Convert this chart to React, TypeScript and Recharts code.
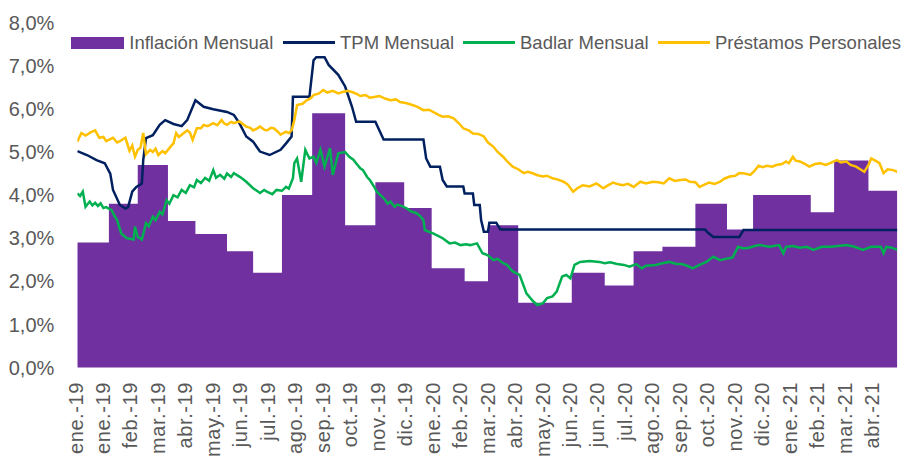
import React from 'react';
import { ComposedChart, Area, Line, XAxis, YAxis } from 'recharts';

// x values are business-day indices starting at 2 Jan 2019 (category axis of daily data)
const tickLabels = [
  'ene.-19', 'ene.-19', 'feb.-19', 'mar.-19', 'abr.-19', 'may.-19', 'jun.-19', 'jul.-19',
  'ago.-19', 'sep.-19', 'oct.-19', 'nov.-19', 'dic.-19', 'ene.-20', 'feb.-20', 'mar.-20',
  'abr.-20', 'may.-20', 'jun.-20', 'jun.-20', 'jul.-20', 'ago.-20', 'sep.-20', 'oct.-20',
  'nov.-20', 'dic.-20', 'ene.-21', 'feb.-21', 'mar.-21', 'abr.-21',
];
const tickEvery = 20;
const lastDay = 597;

const monthStartDay = [
  0, 23, 44, 66, 86, 109, 128, 149, 171, 195, 217, 238, 258, 282, 299, 321, 340, 360,
  384, 405, 426, 450, 473, 492, 513, 534, 551, 576,
];
const inflationMensual = [
  2.9, 3.8, 4.7, 3.4, 3.1, 2.7, 2.2, 4.0, 5.9, 3.3, 4.3, 3.7, 2.3, 2.0, 3.3, 1.5, 1.5, 2.2,
  1.9, 2.7, 2.8, 3.8, 3.2, 4.0, 4.0, 3.6, 4.8, 4.1,
];

const tpmMensual: [number, number][] = [
  [0, 5.02], [7, 4.93], [14, 4.81], [20, 4.74], [24, 4.5], [26, 4.12], [31, 3.77], [35, 3.69],
  [37, 3.72], [40, 4.08], [43, 4.19], [47, 4.27], [48, 4.81], [50, 5.32], [55, 5.39], [60, 5.63],
  [64, 5.74], [70, 5.65], [76, 5.6], [80, 5.74], [86, 6.2], [92, 6.05], [99, 5.99], [109, 5.93],
  [114, 5.86], [118, 5.67], [123, 5.36], [128, 5.24], [133, 5.01], [140, 4.93], [148, 5.05],
  [152, 5.2], [156, 5.36], [157, 6.28], [169, 6.28], [172, 7.13], [174, 7.2], [180, 7.2],
  [183, 7.02], [190, 6.79], [195, 6.52], [200, 6.05], [203, 5.7], [217, 5.7], [223, 5.29],
  [252, 5.29], [254, 4.85], [257, 4.66], [264, 4.66], [266, 4.35], [269, 4.2], [281, 4.2],
  [282, 4.04], [288, 4.04], [289, 3.77], [293, 3.77], [294, 3.42], [296, 3.15], [299, 3.15],
  [300, 3.36], [305, 3.36], [308, 3.2], [457, 3.2], [459, 3.13], [463, 3.03], [482, 3.03],
  [485, 3.19], [597, 3.19],
];

const badlarMensual: [number, number][] = [
  [0, 4.04], [2, 3.98], [4, 4.08], [6, 3.73], [9, 3.85], [11, 3.76], [13, 3.82], [15, 3.75],
  [17, 3.81], [19, 3.7], [21, 3.72], [25, 3.65], [27, 3.52], [29, 3.42], [32, 3.11], [36, 3.0],
  [41, 2.97], [42, 3.27], [44, 3.03], [47, 2.97], [50, 3.35], [52, 3.28], [55, 3.5], [57, 3.42],
  [60, 3.61], [62, 3.55], [65, 3.88], [67, 3.8], [70, 4.0], [73, 3.95], [76, 4.12], [79, 4.05],
  [82, 4.23], [85, 4.18], [87, 4.35], [90, 4.28], [93, 4.4], [96, 4.33], [99, 4.58], [101, 4.4],
  [104, 4.47], [107, 4.38], [109, 4.5], [112, 4.42], [114, 4.51], [118, 4.43], [121, 4.36],
  [123, 4.31], [128, 4.16], [133, 4.05], [136, 4.12], [138, 4.08], [142, 4.02], [145, 4.12],
  [149, 4.1], [152, 4.19], [154, 4.15], [157, 4.39], [158, 4.74], [160, 4.85], [163, 4.31],
  [166, 5.05], [169, 4.85], [172, 4.89], [174, 4.75], [177, 5.05], [180, 4.66], [184, 5.09],
  [186, 4.47], [190, 4.97], [195, 5.0], [198, 4.89], [201, 4.82], [203, 4.74], [206, 4.62],
  [208, 4.58], [211, 4.42], [213, 4.35], [216, 4.2], [218, 4.08], [223, 3.93], [226, 3.8],
  [228, 3.85], [231, 3.73], [233, 3.78], [236, 3.75], [240, 3.69], [243, 3.62], [247, 3.58],
  [250, 3.5], [252, 3.42], [253, 3.19], [256, 3.15], [259, 3.11], [263, 3.05], [266, 3.0],
  [271, 2.88], [275, 2.9], [279, 2.84], [283, 2.86], [286, 2.84], [291, 2.88], [295, 2.65],
  [299, 2.6], [303, 2.49], [306, 2.52], [310, 2.42], [313, 2.38], [315, 2.3], [317, 2.23],
  [322, 2.15], [327, 1.72], [332, 1.53], [335, 1.45], [339, 1.49], [342, 1.61], [346, 1.65],
  [349, 1.76], [353, 2.11], [356, 2.15], [359, 2.07], [362, 2.38], [366, 2.45], [373, 2.47],
  [380, 2.45], [384, 2.42], [388, 2.44], [393, 2.4], [398, 2.38], [402, 2.34], [407, 2.4],
  [411, 2.3], [414, 2.36], [421, 2.38], [426, 2.42], [431, 2.45], [436, 2.4], [440, 2.4],
  [444, 2.36], [448, 2.3], [453, 2.38], [458, 2.45], [463, 2.57], [468, 2.49], [472, 2.52],
  [477, 2.55], [481, 2.8], [485, 2.76], [489, 2.78], [493, 2.82], [497, 2.84], [504, 2.8],
  [511, 2.84], [514, 2.65], [516, 2.8], [521, 2.82], [526, 2.78], [531, 2.8], [536, 2.73],
  [542, 2.8], [548, 2.8], [554, 2.82], [560, 2.84], [566, 2.8], [572, 2.73], [578, 2.8],
  [585, 2.8], [587, 2.65], [589, 2.8], [593, 2.78], [597, 2.73],
];

const prestamosPersonales: [number, number][] = [
  [0, 5.24], [3, 5.44], [6, 5.38], [10, 5.46], [13, 5.5], [16, 5.33], [19, 5.35], [21, 5.25],
  [24, 5.3], [26, 5.33], [29, 5.22], [31, 5.25], [35, 5.33], [38, 5.03], [40, 5.15], [42, 4.89],
  [44, 5.05], [46, 5.1], [48, 5.44], [50, 4.95], [53, 5.05], [55, 5.0], [57, 5.08], [59, 4.93],
  [62, 5.02], [64, 4.97], [67, 5.09], [70, 5.2], [72, 5.44], [74, 5.35], [76, 5.4], [78, 5.45],
  [80, 5.5], [82, 5.45], [84, 5.28], [87, 5.55], [90, 5.55], [92, 5.63], [95, 5.6], [99, 5.67],
  [102, 5.62], [105, 5.74], [107, 5.66], [109, 5.63], [112, 5.7], [114, 5.67], [118, 5.71],
  [121, 5.64], [123, 5.59], [126, 5.56], [128, 5.5], [131, 5.55], [133, 5.59], [136, 5.52],
  [138, 5.5], [141, 5.56], [143, 5.55], [146, 5.47], [148, 5.4], [150, 5.44], [152, 5.47],
  [154, 5.44], [156, 5.5], [158, 5.74], [160, 6.09], [164, 6.12], [167, 6.2], [170, 6.25],
  [172, 6.32], [176, 6.36], [179, 6.44], [182, 6.38], [186, 6.42], [190, 6.36], [194, 6.4],
  [197, 6.42], [201, 6.38], [204, 6.34], [206, 6.3], [210, 6.32], [213, 6.26], [217, 6.28],
  [220, 6.3], [224, 6.24], [228, 6.2], [232, 6.22], [235, 6.16], [240, 6.13], [245, 6.08],
  [248, 6.04], [252, 5.97], [256, 5.98], [259, 5.93], [263, 5.86], [266, 5.82], [270, 5.83],
  [274, 5.78], [278, 5.66], [281, 5.55], [285, 5.5], [288, 5.43], [292, 5.42], [296, 5.36],
  [299, 5.22], [303, 5.12], [306, 5.0], [310, 4.89], [313, 4.78], [317, 4.66], [321, 4.6],
  [325, 4.51], [328, 4.54], [332, 4.5], [335, 4.46], [339, 4.43], [342, 4.45], [346, 4.39],
  [350, 4.36], [354, 4.31], [357, 4.25], [361, 4.08], [364, 4.16], [368, 4.23], [373, 4.2],
  [378, 4.27], [383, 4.16], [386, 4.22], [390, 4.29], [394, 4.25], [397, 4.23], [401, 4.26],
  [405, 4.19], [410, 4.31], [414, 4.27], [419, 4.31], [423, 4.3], [427, 4.27], [431, 4.39],
  [435, 4.33], [439, 4.35], [443, 4.36], [446, 4.31], [450, 4.3], [453, 4.19], [457, 4.25],
  [460, 4.29], [464, 4.26], [468, 4.31], [471, 4.38], [475, 4.43], [479, 4.45], [482, 4.51],
  [486, 4.5], [490, 4.47], [493, 4.56], [496, 4.68], [499, 4.65], [502, 4.68], [506, 4.66],
  [509, 4.7], [513, 4.72], [516, 4.78], [518, 4.74], [521, 4.89], [523, 4.8], [526, 4.78],
  [530, 4.72], [533, 4.66], [537, 4.72], [541, 4.74], [545, 4.7], [548, 4.74], [553, 4.81],
  [556, 4.76], [560, 4.78], [563, 4.7], [567, 4.66], [570, 4.6], [573, 4.54], [576, 4.7],
  [578, 4.85], [581, 4.8], [584, 4.74], [587, 4.51], [590, 4.6], [594, 4.58], [597, 4.54],
];

const yTicks = [0, 1, 2, 3, 4, 5, 6, 7, 8];

const COLORS = {
  inflacion: '#7030A0',
  tpm: '#002060',
  badlar: '#00B050',
  prestamos: '#FFC000',
  text: '#595959',
};
const FONT = '"Liberation Sans", Arial, sans-serif';

const inflationData = [
  ...monthStartDay.map((d, i) => ({ x: d, v: inflationMensual[i] })),
  { x: lastDay, v: inflationMensual[inflationMensual.length - 1] },
];
const toPoints = (s: [number, number][]) => s.map(([x, v]) => ({ x, v }));
const xTicks = tickLabels.map((_, i) => i * tickEvery);

const XTick = (props: any) => {
  const { x, y, payload } = props;
  const idx = Math.round(payload.value / tickEvery);
  return (
    <text
      transform={`translate(${x},${y + 14.5}) rotate(-90)`}
      textAnchor="end"
      dy={5.2}
      fontSize={20}
      letterSpacing={0.6}
      fill={COLORS.text}
      fontFamily={FONT}
    >
      {tickLabels[idx]}
    </text>
  );
};

const legendItems = [
  { label: 'Inflación Mensual', kind: 'rect', color: COLORS.inflacion, sx: 70.7, sw: 53.3, tx: 129.3 },
  { label: 'TPM Mensual', kind: 'line', color: COLORS.tpm, sx: 282.7, sw: 52, tx: 340 },
  { label: 'Badlar Mensual', kind: 'line', color: COLORS.badlar, sx: 462.7, sw: 52.3, tx: 520 },
  { label: 'Préstamos Personales', kind: 'line', color: COLORS.prestamos, sx: 657.7, sw: 52.3, tx: 715 },
];

export default function App() {
  return (
    <div style={{ position: 'absolute', left: 0, top: 0, width: 904, height: 461, background: '#fff' }}>
      <ComposedChart
        width={904}
        height={461}
        margin={{ top: 22.7, right: 6.7, bottom: 0, left: 0 }}
      >
        <XAxis
          type="number"
          dataKey="x"
          domain={[0, lastDay]}
          ticks={xTicks}
          interval={0}
          height={93.5}
          axisLine={false}
          tickLine={false}
          tickSize={0}
          tickMargin={0}
          tick={<XTick />}
          allowDataOverflow
        />
        <YAxis
          type="number"
          domain={[0, 8]}
          ticks={yTicks}
          interval={0}
          width={77.3}
          axisLine={false}
          tickLine={false}
          tickSize={0}
          tickMargin={23}
          tick={{ fontSize: 20, fill: COLORS.text, fontFamily: FONT }}
          tickFormatter={(v: number) => `${v.toFixed(1).replace('.', ',')}%`}
        />
        <Area
          data={inflationData}
          dataKey="v"
          type="stepAfter"
          fill={COLORS.inflacion}
          fillOpacity={1}
          stroke="none"
          baseValue={0}
          isAnimationActive={false}
        />
        <Line
          data={toPoints(tpmMensual)}
          dataKey="v"
          type="linear"
          stroke={COLORS.tpm}
          strokeWidth={2.5}
          dot={false}
          activeDot={false}
          isAnimationActive={false}
        />
        <Line
          data={toPoints(badlarMensual)}
          dataKey="v"
          type="linear"
          stroke={COLORS.badlar}
          strokeWidth={2.5}
          dot={false}
          activeDot={false}
          isAnimationActive={false}
        />
        <Line
          data={toPoints(prestamosPersonales)}
          dataKey="v"
          type="linear"
          stroke={COLORS.prestamos}
          strokeWidth={2.5}
          dot={false}
          activeDot={false}
          isAnimationActive={false}
        />
      </ComposedChart>
      {legendItems.map((it) => (
        <React.Fragment key={it.label}>
          <div
            style={{
              position: 'absolute',
              left: it.sx,
              top: it.kind === 'rect' ? 36.7 : 41.3,
              width: it.sw,
              height: it.kind === 'rect' ? 12.3 : 2.8,
              background: it.color,
            }}
          />
          <div
            style={{
              position: 'absolute',
              left: it.tx,
              top: 32.7,
              height: 20,
              lineHeight: '20px',
              fontSize: 18.5,
              fontFamily: FONT,
              color: COLORS.text,
              whiteSpace: 'nowrap',
            }}
          >
            {it.label}
          </div>
        </React.Fragment>
      ))}
    </div>
  );
}
